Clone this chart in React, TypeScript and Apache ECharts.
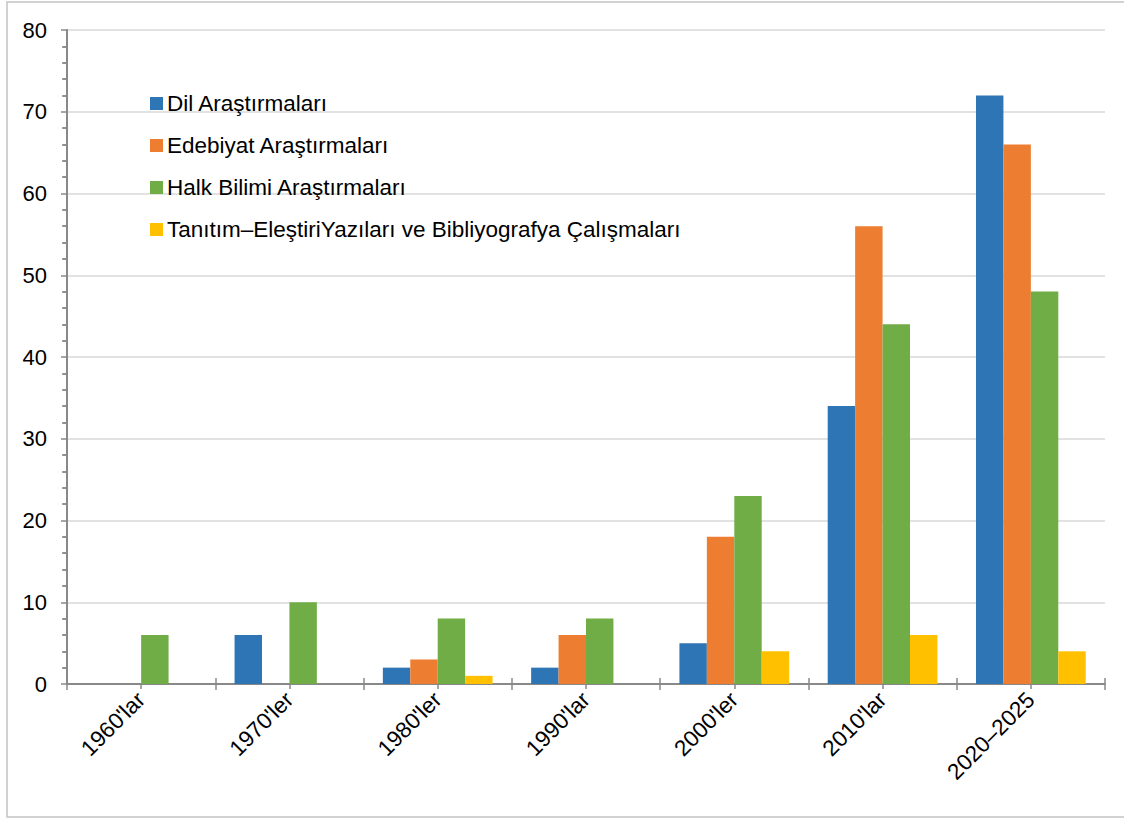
import React, { useEffect, useRef } from "react";
import * as echarts from "echarts";

const categories = ["1960'lar", "1970'ler", "1980'ler", "1990'lar", "2000'ler", "2010'lar", "2020–2025"];
const seriesNames = [
  "Dil Araştırmaları",
  "Edebiyat Araştırmaları",
  "Halk Bilimi Araştırmaları",
  "Tanıtım–EleştiriYazıları ve Bibliyografya Çalışmaları",
];
const dil = [0, 6, 2, 2, 5, 34, 72];
const edebiyat = [0, 0, 3, 6, 18, 56, 66];
const halk = [6, 10, 8, 8, 23, 44, 48];
const tanitim = [0, 0, 1, 0, 4, 6, 4];
const colors = ["#2E75B6", "#ED7D31", "#70AD47", "#FFC000"];

const FONT = "Liberation Sans, Arial, sans-serif";
const AXIS_COLOR = "#898989";

export default function App() {
  const ref = useRef<HTMLDivElement>(null);
  useEffect(() => {
    if (!ref.current) return;
    const chart = echarts.init(ref.current, null, { renderer: "svg" });
    const values = [dil, edebiyat, halk, tanitim];
    const hiddenCat = (extra: any) => ({
      type: "category",
      data: categories,
      position: "bottom",
      axisLine: { show: false },
      axisLabel: { show: false },
      splitLine: { show: false },
      ...extra,
    });
    chart.setOption({
      animation: false,
      backgroundColor: "#fff",
      textStyle: { fontFamily: FONT },
      grid: { left: 67, right: 19, top: 30, bottom: 134, containLabel: false },
      legend: {
        orient: "vertical",
        left: 145,
        top: 87,
        icon: "rect",
        itemWidth: 13,
        itemHeight: 13,
        itemGap: 19,
        data: seriesNames,
        textStyle: { fontSize: 22.5, color: "#000", fontFamily: FONT, padding: [0, 0, 0, -1] },
      },
      graphic: [
        {
          type: "rect",
          shape: { x: 7, y: 2, width: 1130, height: 815 },
          style: { fill: "transparent", stroke: "#c4c4c4", lineWidth: 1.5 },
          silent: true,
          z: -1,
        },
      ],
      xAxis: [
        {
          type: "category",
          data: categories,
          position: "bottom",
          axisLine: { show: true, lineStyle: { color: AXIS_COLOR, width: 2 } },
          axisTick: { show: true, length: 6, lineStyle: { color: AXIS_COLOR, width: 1.5 } },
          axisLabel: { rotate: 45, fontSize: 22.5, color: "#000", fontFamily: FONT, margin: 12, interval: 0 },
          splitLine: { show: false },
        },
        hiddenCat({ axisTick: { show: true, inside: true, length: 6, lineStyle: { color: AXIS_COLOR, width: 1.5 } } }),
        hiddenCat({ axisTick: { show: true, alignWithLabel: true, length: 5, lineStyle: { color: AXIS_COLOR, width: 1.5 } } }),
      ],
      yAxis: [
        {
          type: "value",
          min: 0,
          max: 80,
          interval: 10,
          position: "left",
          axisLine: { show: true, lineStyle: { color: AXIS_COLOR, width: 2 } },
          axisTick: { show: true, length: 6, lineStyle: { color: AXIS_COLOR, width: 1.5 } },
          minorTick: { show: true, splitNumber: 5, length: 4, lineStyle: { color: AXIS_COLOR, width: 1.5 } },
          axisLabel: { fontSize: 22, color: "#000", fontFamily: FONT, margin: 20 },
          splitLine: { show: true, lineStyle: { color: "#d9d9d9", width: 1.5 } },
        },
        {
          type: "value",
          min: 0,
          max: 80,
          interval: 10,
          position: "left",
          axisLine: { show: false },
          axisTick: { show: false },
          minorTick: { show: true, splitNumber: 5, length: 5, lineStyle: { color: AXIS_COLOR, width: 1.5 } },
          axisLabel: { show: false },
          splitLine: { show: false },
        },
      ],
      series: seriesNames.map((name, i) => ({
        name,
        type: "bar",
        xAxisIndex: 0,
        yAxisIndex: 0,
        data: values[i],
        itemStyle: { color: colors[i] },
        barGap: "0%",
        barCategoryGap: "26%",
      })),
    });
    return () => chart.dispose();
  }, []);
  return (
    <div
      ref={ref}
      style={{ position: "fixed", left: 0, top: 0, width: 1124, height: 818, background: "#fff" }}
    />
  );
}
